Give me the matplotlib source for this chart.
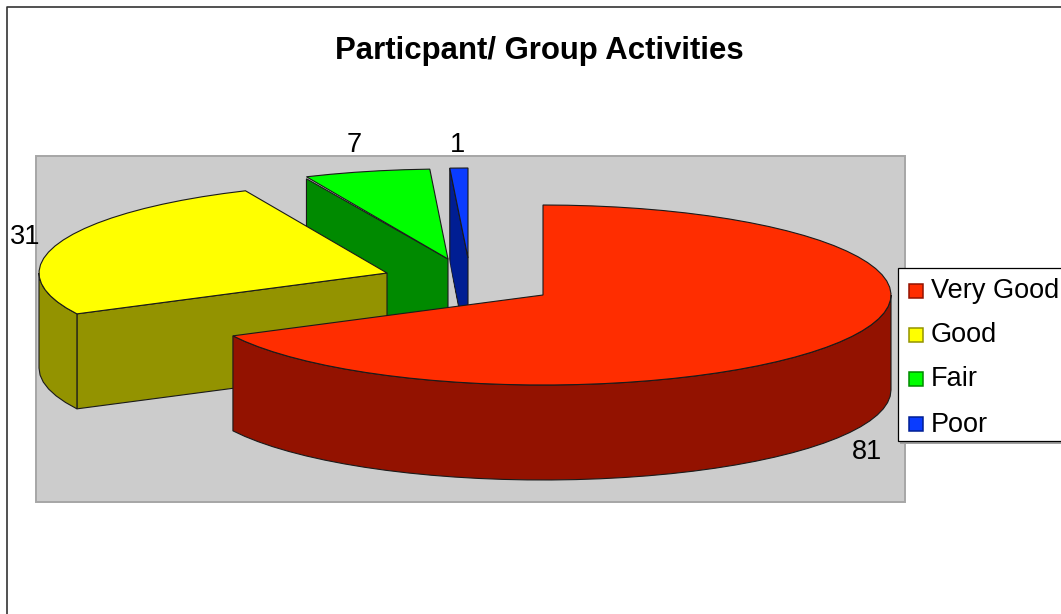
import numpy as np
import matplotlib

matplotlib.use('Agg')
import matplotlib.pyplot as plt
from matplotlib.patches import Polygon, Rectangle

# Chart data
categories = ['Very Good', 'Good', 'Fair', 'Poor']
values = [81, 31, 7, 1]
top_colors = ['#FF2D00', '#FFFF00', '#00FF00', '#0A3CFF']
side_colors = ['#931200', '#939300', '#008A00', '#001E93']

# Exploded centre of each slice in pixels, and where its number goes
centers = [(543, 295), (387, 273), (448, 259), (468, 258)]
label_pos = [(867, 452), (25, 237), (354, 145), (457, 145)]

# Ellipse of the pie seen in perspective
rx = 348
ry = 90
depth = 95

plt.rcParams['font.family'] = ['Liberation Sans', 'DejaVu Sans']

fig = plt.figure(figsize=(10.61, 6.14), dpi=100)
ax = fig.add_axes([0, 0, 1, 1])
ax.set_xlim(0, 1061)
ax.set_ylim(614, 0)
ax.axis('off')


def rim(center, start, end):
    # points on the rim, angles in degrees clockwise from 12 o'clock
    n = max(int(abs(end - start) / 4), 1) + 1
    a = np.radians(np.linspace(start, end, n))
    return np.column_stack([center[0] + rx * np.sin(a), center[1] - ry * np.cos(a)])


def poly(points, color, lw=0.8):
    ax.add_patch(Polygon(points, closed=True, facecolor=color, edgecolor='#1a1a1a', linewidth=lw))


# Outer frame and plot area
ax.plot([7, 7, 1061], [614, 7, 7], color='#333333', linewidth=1.2)
ax.add_patch(Rectangle((36, 156), 869, 346, facecolor='#CCCCCC', edgecolor='#A6A6A6', linewidth=1.4))

# Slice angles
ends = np.cumsum(values) / np.sum(values) * 360
starts = np.concatenate([[0], ends[:-1]])
down = np.array([0, depth])

# Far slices first, the red one last so it covers the others
for i in [3, 2, 1, 0]:
    c = np.array(centers[i], dtype=float)
    edge = rim(c, starts[i], starts[i])

    # flat face from the slice's first radius, extruded down
    gap = np.array([0, 2]) if i == 2 else np.array([0, 0])
    if i > 0:
        poly([edge[0] + gap, c, c + down, edge[0] + down], side_colors[i])

    # the far edge of the green slice cuts the blue face off in the picture
    if i == 3:
        gc = np.array(centers[2], dtype=float)
        ge = rim(gc, ends[2], ends[2])[0]
        tip = gc + (gc - ge) * 0.51
        ax.add_patch(Polygon([gc + [1, 0], tip, [gc[0] + 1, tip[1] + 6]], closed=True,
                             facecolor='#CCCCCC', edgecolor='none'))

    # curved outer wall, only the part that faces the viewer
    a0 = max(starts[i], 90)
    a1 = min(ends[i], 270)
    if a1 > a0:
        wall = rim(c, a0, a1)
        poly(np.vstack([wall, wall[::-1] + down]), side_colors[i])

    # top of the slice
    poly(np.vstack([c, rim(c, starts[i], ends[i])]), top_colors[i])

# Value labels
for v, (x, y) in zip(values, label_pos):
    ax.text(x, y, str(v), fontsize=19.5, ha='center', va='center', color='black')

# Title
ax.text(539, 51, 'Particpant/ Group Activities', fontsize=22.4, fontweight='bold',
        ha='center', va='center', color='black')

# Legend
ax.add_patch(Rectangle((900, 270), 170, 174, facecolor='#A0A0A0', edgecolor='none'))
ax.add_patch(Rectangle((898, 268), 170, 173, facecolor='white', edgecolor='black', linewidth=0.9))
legend_y = [291, 335, 379, 424]
for name, top, side, y in zip(categories, top_colors, side_colors, legend_y):
    ax.add_patch(Rectangle((908.5, y - 7), 14, 14, facecolor=top, edgecolor=side, linewidth=1.1))
    ax.text(931, y + 0.5, name, fontsize=19.5, ha='left', va='center', color='black')

fig.savefig('out.png', dpi=100)
